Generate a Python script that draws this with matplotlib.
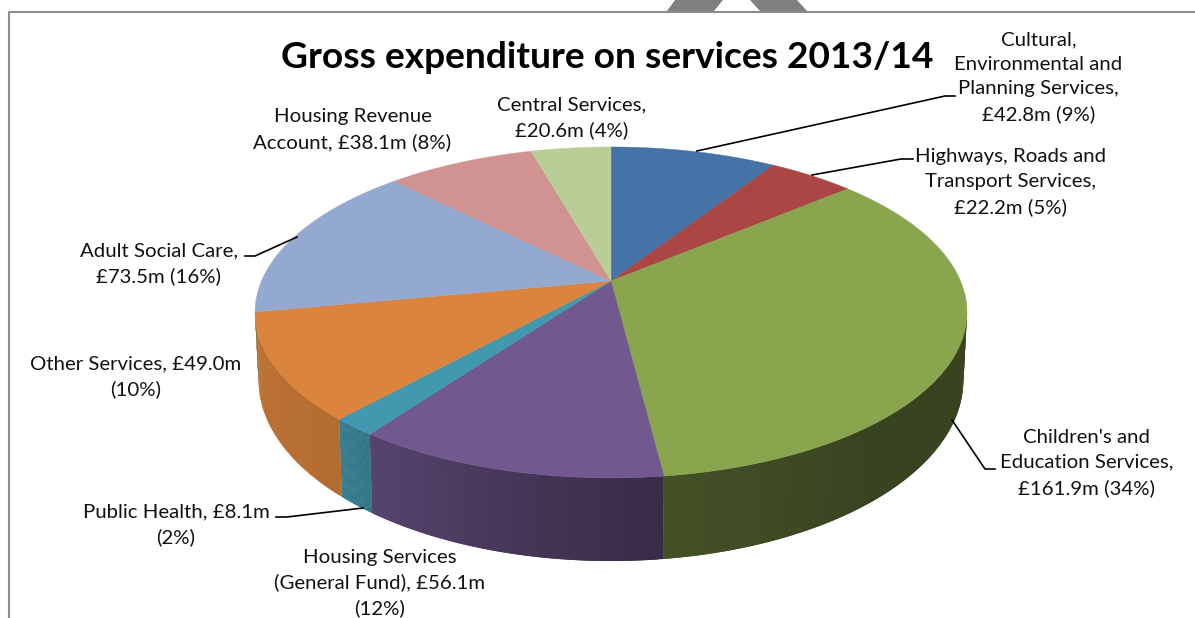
import numpy as np
import matplotlib
matplotlib.use("Agg")
import matplotlib.pyplot as plt
from matplotlib.collections import PolyCollection
from matplotlib.colors import to_rgb

plt.rcParams["font.family"] = ["Lato", "DejaVu Sans"]

# Datos, en el sentido de las agujas desde arriba
categorias = ["Cultural", "Highways", "Children", "Housing GF", "Public Health",
              "Other", "Adult", "HRA", "Central"]
valores = [42.8, 22.2, 161.9, 56.1, 8.1, 49.0, 73.5, 38.1, 20.6]
colores = ["#4572a7", "#aa4643", "#89a54e", "#71588f", "#4198af",
           "#db843d", "#93a9cf", "#d19392", "#b9cd96"]
etiquetas = [
    "Cultural,\nEnvironmental and\nPlanning Services,\n£42.8m (9%)",
    "Highways, Roads and\nTransport Services,\n£22.2m (5%)",
    "Children's and\nEducation Services,\n£161.9m (34%)",
    "Housing Services\n(General Fund), £56.1m\n(12%)",
    "Public Health, £8.1m\n(2%)",
    "Other Services, £49.0m\n(10%)",
    "Adult Social Care,\n£73.5m (16%)",
    "Housing Revenue\nAccount, £38.1m (8%)",
    "Central Services,\n£20.6m (4%)",
]
pos_etiquetas = [(1038.5, 77), (1011, 182), (1087, 463), (380, 583), (176, 525),
                 (135.5, 377), (159, 263.5), (352.5, 129.5), (572, 118)]
guias = [
    [(697, 151), (945, 96), (955, 96)],
    [(812, 175), (901, 159), (913, 159)],
    [(952, 420), (985, 469), (995, 469)],
    None,
    [(363, 508), (287, 517), (276, 517)],
    None,
    [(297, 237), (255, 256), (245, 256)],
    None,
    None,
]

# Perspectiva de la tarta
K = 0.19
TAPA = (611, 281, 349.5, 159.5)
BASE = (611, 345.6, 346.0, 174.5)
# Sombra del lateral segun el angulo
ANG_SOMBRA = [90, 140, 172, 190, 215, 222, 260, 275]
VAL_SOMBRA = [0.41, 0.41, 0.49, 0.60, 0.77, 0.82, 0.88, 0.90]
# Solo se ve el lateral entre estos angulos
LADO_MIN, LADO_MAX = np.radians(99), np.radians(260)


def proyectar(theta, plano):
    cx, cy, a, b = plano
    u, v = np.sin(theta), np.cos(theta)
    d = 1 + K * v
    return cx + a * u / d, cy - b * v / d


fig = plt.figure(figsize=(11.95, 6.18), dpi=100)
ax = fig.add_axes([0, 0, 1, 1])
ax.set_xlim(0, 1195)
ax.set_ylim(618, 0)
ax.axis("off")

# Marco y marca gris de arriba
ax.plot([9, 9, 1195], [618, 12, 12], color="#8c8c8c", lw=1.5)
ax.fill([667, 675, 723, 714], [11, 0, 0, 11], color="#808080", lw=0)
ax.fill([760, 750, 797, 807], [11, 0, 0, 11], color="#808080", lw=0)

angulos = np.cumsum([0] + valores) / sum(valores) * 2 * np.pi

# Laterales
for i in range(len(valores)):
    ini = max(angulos[i], LADO_MIN)
    fin = min(angulos[i + 1], LADO_MAX)
    if fin <= ini:
        continue
    th = np.linspace(ini, fin, 60)
    xt, yt = proyectar(th, TAPA)
    xb, yb = proyectar(th, BASE)
    quads = []
    cols = []
    base = np.array(to_rgb(colores[i]))
    for j in range(len(th) - 1):
        k = min(j + 2, len(th) - 1)  # solapa con el siguiente para que no haya rayas
        quads.append([(xt[j], yt[j]), (xt[k], yt[k]), (xb[k], yb[k]), (xb[j], yb[j])])
        s = np.interp(np.degrees(th[j]), ANG_SOMBRA, VAL_SOMBRA)
        cols.append(base * s)
    ax.add_collection(PolyCollection(quads, facecolors=cols, edgecolors="none"))

# Tapa
for i in range(len(valores)):
    th = np.linspace(angulos[i], angulos[i + 1], 120)
    xt, yt = proyectar(th, TAPA)
    ax.fill(np.r_[TAPA[0], xt], np.r_[TAPA[1], yt], color=colores[i], lw=0.3)

# Guias
for g in guias:
    if g is not None:
        ax.plot(*zip(*g), color="black", lw=1.2, solid_joinstyle="round")

# Textos
for txt, (x, y) in zip(etiquetas, pos_etiquetas):
    ax.text(x, y, txt, ha="center", va="center", fontsize=14.7, color="#111111",
            linespacing=1.54)

ax.text(607, 58, "Gross expenditure on services 2013/14", ha="center", va="center",
        fontsize=26.7, fontweight="bold", color="black")

fig.savefig("out.png", dpi=100)
